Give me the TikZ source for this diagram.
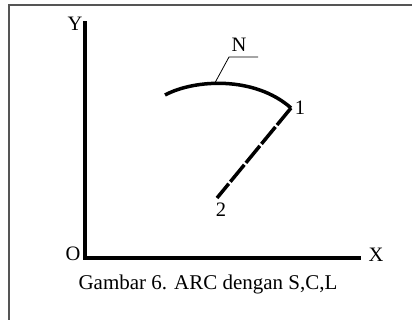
\documentclass[tikz,border=0pt]{standalone}
\usepackage{fontspec}
\setmainfont{Liberation Serif}
\usetikzlibrary{positioning}
\definecolor{frgrey}{HTML}{555555}

\begin{document}
\begin{tikzpicture}[
  x=1pt,y=-1pt,
  axis/.style={line width=4pt,line cap=rect},
  curve/.style={line width=3.5pt},
  dashline/.style={line width=3.5pt,dash pattern=on 22pt off 2.5pt},
  leader/.style={line width=0.8pt},
  lbl/.style={font=\fontsize{20.5}{23}\selectfont,inner sep=0pt},
  frame/.style={draw=frgrey,line width=1.5pt}
]
\useasboundingbox (0,0) rectangle (412,320);
\clip (0,0) rectangle (412,320);
\draw[frame] (9,5) rectangle (440,350);

\coordinate (o) at (85,258);
\coordinate (yend) at (85,23);
\coordinate (xend) at (359,258);
\coordinate (a0) at (165,95);
\coordinate (p1) at (291,108);
\coordinate (p2) at (217,198);
\coordinate (nk) at (229,57);
\coordinate (ne) at (258,57);

\draw[axis] (yend) -- (o) -- (xend);

\node[lbl] (ylbl) at (75,24) {Y};
\node[lbl] (olbl) at (73,254) {O};
\node[lbl] (xlbl) at (376,255) {X};

\draw[curve] (a0) .. controls (195,79) and (255,76) .. coordinate[pos=0.42] (na) (p1);
\draw[dashline] (p1) -- (p2);

\node[lbl] (n1) at (300,108) {1};
\node[lbl] (n2) at (221,210) {2};

\draw[leader] (na) -- (nk) -- (ne);
\node[lbl] (nlbl) at (239,45) {N};

\node[lbl,font=\fontsize{21}{24}\selectfont] (cap) at (208,284) {Gambar 6. ARC dengan S,C,L};
\end{tikzpicture}
\end{document}
